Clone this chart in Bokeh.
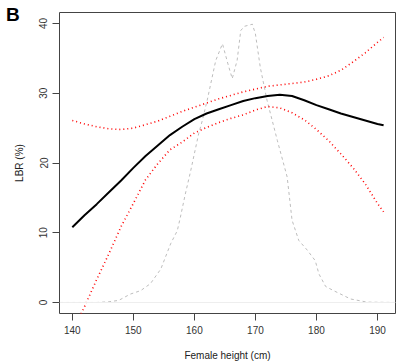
from bokeh.plotting import figure
from bokeh.models import Range1d, FixedTicker, Span, Div
from bokeh.layouts import column
from bokeh.embed import file_html
from bokeh.resources import INLINE

# Female height (cm) grid for the fitted curve and its confidence band
height = [140, 142, 144, 146, 148, 150, 152, 154, 156, 158, 160, 162, 164, 166,
          168, 170, 172, 174, 176, 178, 180, 182, 184, 186, 188, 190, 191]
lbr_fit = [10.8, 12.5, 14.1, 15.8, 17.5, 19.3, 21.0, 22.5, 24.0, 25.2, 26.3, 27.1,
           27.7, 28.3, 28.9, 29.3, 29.6, 29.8, 29.6, 29.0, 28.3, 27.7, 27.1, 26.6,
           26.1, 25.6, 25.4]
lbr_upper = [26.1, 25.6, 25.2, 24.9, 24.8, 25.0, 25.5, 26.0, 26.7, 27.4, 28.0, 28.6,
             29.2, 29.7, 30.2, 30.6, 31.0, 31.2, 31.4, 31.6, 32.0, 32.5, 33.3, 34.5,
             35.8, 37.3, 38.0]
lbr_lower = [-4.2, -0.6, 3.3, 7.0, 10.9, 14.2, 17.6, 19.9, 21.9, 23.0, 24.3, 25.1,
             25.8, 26.4, 26.9, 27.6, 28.1, 27.9, 27.2, 26.2, 24.8, 23.2, 21.3, 19.3,
             17.0, 14.2, 13.0]

# Height distribution (scaled density)
dens_x = [138, 140, 142, 144, 146, 147.6, 149.5, 151.2, 152.8, 154.5, 156.1, 157.2,
          157.7, 158.5, 159.4, 160.7, 161.3, 162.1, 163.5, 164.6, 165.5, 166.2, 167.0,
          167.6, 168.2, 169.5, 170.0, 170.8, 171.9, 173.6, 175.2, 176.0, 177.1, 178.5,
          179.8, 180.4, 181.5, 182.8, 185.6, 188.3, 193]
dens_y = [0, 0, 0, 0, 0.1, 0.3, 1.2, 1.7, 2.7, 4.8, 8.4, 10.3, 12.2, 15.5, 18.9, 24.2,
          26.1, 29.0, 34.7, 37.1, 34.2, 32.1, 34.7, 39.0, 39.6, 39.9, 38.5, 33.7, 29.0,
          23.2, 18.0, 11.8, 8.9, 7.5, 6.0, 4.1, 2.3, 1.7, 0.5, 0.05, 0]

x_ticks = [140, 150, 160, 170, 180, 190]
y_ticks = [0, 10, 20, 30, 40]
panel_letter = "B"

p = figure(width=400, height=364, output_backend="svg", toolbar_location=None,
           x_range=Range1d(137.9, 192.95), y_range=Range1d(-1.58, 41.58),
           min_border_left=59, min_border_right=5, min_border_top=12,
           min_border_bottom=51)

p.background_fill_color = "white"
p.border_fill_color = None
p.outline_line_color = "#444444"
p.outline_line_width = 1
p.xgrid.visible = False
p.ygrid.visible = False

FONT = "Liberation Sans"
for ax in (p.xaxis[0], p.yaxis[0]):
    ax.axis_line_color = None
    ax.major_tick_line_color = "#444444"
    ax.major_tick_out = 7
    ax.major_tick_in = 0
    ax.minor_tick_line_color = None
    ax.major_label_text_font = FONT
    ax.major_label_text_font_size = "10px"
    ax.major_label_text_color = "#333333"
    ax.axis_label_text_font = FONT
    ax.axis_label_text_font_size = "10px"
    ax.axis_label_text_font_style = "normal"
    ax.axis_label_text_color = "#222222"
    ax.major_label_standoff = 5

p.xaxis.ticker = FixedTicker(ticks=x_ticks)
p.yaxis.ticker = FixedTicker(ticks=y_ticks)
p.yaxis.major_label_orientation = "vertical"
p.xaxis.axis_label = "Female height (cm)"
p.yaxis.axis_label = "LBR (%)"
p.xaxis.axis_label_standoff = 13
p.yaxis.axis_label_standoff = 12

p.add_layout(Span(location=0, dimension="width", line_color="#eeeeee", line_width=1))

p.line(dens_x, dens_y, line_color="#bdbdbd", line_width=1, line_dash="3 3")
p.line(height, lbr_upper, line_color="red", line_width=1.6, line_dash="1 3")
p.line(height, lbr_lower, line_color="red", line_width=1.6, line_dash="1 3")
p.line(height, lbr_fit, line_color="black", line_width=2)

letter = Div(text="<b>%s</b>" % panel_letter, width=30, height=24,
             margin=(1, 0, -25, 6),
             styles={"font-size": "19px", "font-family": "Liberation Sans",
                     "color": "black"})

layout = column(letter, p, spacing=0)
open("out.html", "w").write(file_html(layout, INLINE))
